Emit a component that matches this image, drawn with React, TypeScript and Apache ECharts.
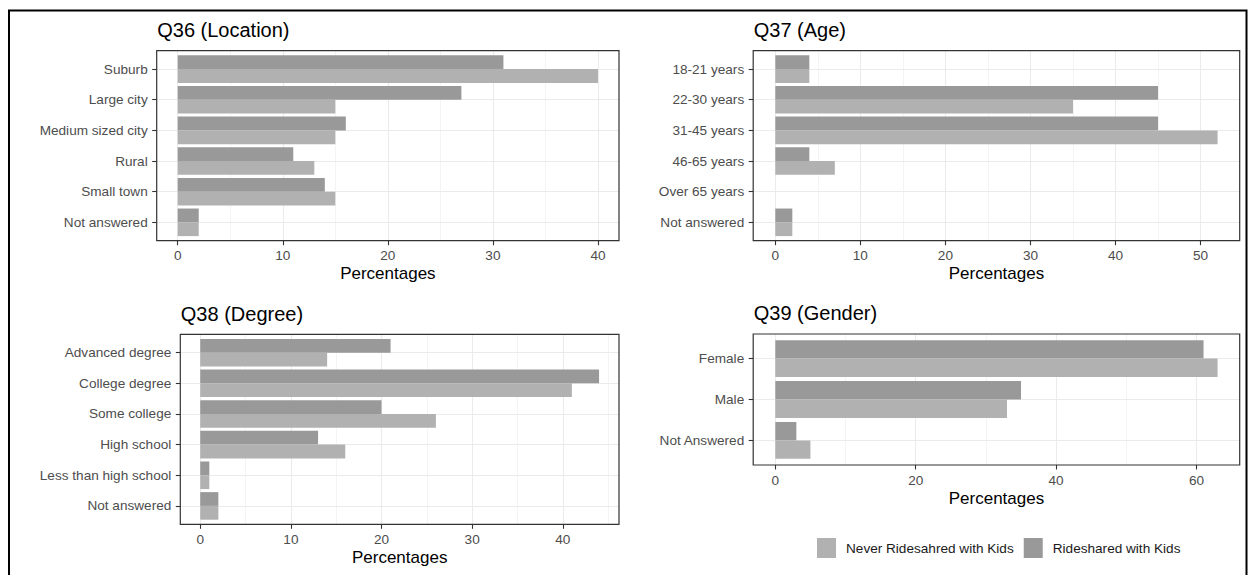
import React, { useEffect, useRef } from "react";
import * as echarts from "echarts";

const NEVER = "Never Ridesahred with Kids";
const RIDE = "Rideshared with Kids";

const q36Categories = ["Suburb", "Large city", "Medium sized city", "Rural", "Small town", "Not answered"];
const q36Ride = [31, 27, 16, 11, 14, 2];
const q36Never = [40, 15, 15, 13, 15, 2];

const q37Categories = ["18-21 years", "22-30 years", "31-45 years", "46-65 years", "Over 65 years", "Not answered"];
const q37Ride = [4, 45, 45, 4, 0, 2];
const q37Never = [4, 35, 52, 7, 0, 2];

const q38Categories = ["Advanced degree", "College degree", "Some college", "High school", "Less than high school", "Not answered"];
const q38Ride = [21, 44, 20, 13, 1, 2];
const q38Never = [14, 41, 26, 16, 1, 2];

const q39Categories = ["Female", "Male", "Not Answered"];
const q39Ride = [61, 35, 3];
const q39Never = [63, 33, 5];

const FONT = '"Liberation Sans", Arial, Helvetica, sans-serif';
const W = 1251;
const H = 575;

const panels = [
  { title: "Q36 (Location)", cats: q36Categories, ride: q36Ride, never: q36Never, step: 10, box: [156.7, 50.7, 619, 240.7] },
  { title: "Q37 (Age)", cats: q37Categories, ride: q37Ride, never: q37Never, step: 10, box: [753.2, 50.7, 1239.7, 240.7] },
  { title: "Q38 (Degree)", cats: q38Categories, ride: q38Ride, never: q38Never, step: 10, box: [180.3, 334.3, 619, 524.3] },
  { title: "Q39 (Gender)", cats: q39Categories, ride: q39Ride, never: q39Never, step: 20, box: [753.2, 334, 1239.7, 465] },
];

function buildOption() {
  const grids: any[] = [];
  const xAxes: any[] = [];
  const yAxes: any[] = [];
  const series: any[] = [];
  const graphics: any[] = [];

  const tickStyle = { show: true, length: 4.5, lineStyle: { color: "#333333", width: 1.1 } };
  const labelStyle = { color: "#4d4d4d", fontSize: 13.6, fontFamily: FONT };

  panels.forEach((p) => {
    const [L, T, R, B] = p.box;
    const maxV = Math.max(...p.ride, ...p.never);
    const lo = -0.05 * maxV;
    const hi = 1.05 * maxV;
    const px = (v: number) => L + ((v - lo) / (hi - lo)) * (R - L);
    const n = p.cats.length;
    const u = (B - T) / (n - 1 + 1.2);

    // major grid (vertical lines, ticks, labels)
    let tickMax = 0;
    while (tickMax + p.step <= hi + 1e-9) tickMax += p.step;
    const gMaj = grids.length;
    grids.push({ left: px(0), top: T, width: px(tickMax) - px(0), height: B - T });
    xAxes.push({
      type: "value",
      gridIndex: gMaj,
      min: 0,
      max: tickMax,
      interval: p.step,
      axisLine: { show: false, onZero: false },
      axisTick: tickStyle,
      axisLabel: { ...labelStyle, margin: 8 },
      splitLine: { show: true, lineStyle: { color: "#ebebeb", width: 1.1 } },
    });
    yAxes.push({ type: "value", gridIndex: gMaj, show: false });

    // minor grid
    const minors: number[] = [];
    for (let m = -p.step / 2; m <= hi; m += p.step) if (m >= lo) minors.push(m);
    const gMin = grids.length;
    const mFirst = minors[0];
    const mLast = minors[minors.length - 1];
    grids.push({ left: px(mFirst), top: T, width: px(mLast) - px(mFirst), height: B - T });
    xAxes.push({
      type: "value",
      gridIndex: gMin,
      min: mFirst,
      max: mLast,
      interval: p.step,
      axisLine: { show: false, onZero: false },
      axisTick: { show: false },
      axisLabel: { show: false },
      splitLine: { show: true, lineStyle: { color: "#ebebeb", width: 0.55 } },
    });
    yAxes.push({ type: "value", gridIndex: gMin, show: false });

    // data grid
    const gD = grids.length;
    grids.push({ left: L, top: T + 0.6 * u, width: R - L, height: B - T - 1.2 * u });
    xAxes.push({ type: "value", gridIndex: gD, min: lo, max: hi, show: false });
    yAxes.push({
      type: "category",
      gridIndex: gD,
      data: p.cats,
      inverse: true,
      boundaryGap: false,
      axisLine: { show: false, onZero: false },
      axisTick: tickStyle,
      axisLabel: { ...labelStyle, margin: 9, interval: 0 },
      splitLine: { show: true, lineStyle: { color: "#ebebeb", width: 1.1 } },
    });
    series.push({
      type: "bar",
      name: RIDE,
      xAxisIndex: gD,
      yAxisIndex: gD,
      data: p.ride,
      barGap: "0%",
      barCategoryGap: "10%",
      itemStyle: { color: "#999999" },
    });
    series.push({
      type: "bar",
      name: NEVER,
      xAxisIndex: gD,
      yAxisIndex: gD,
      data: p.never,
      barGap: "0%",
      barCategoryGap: "10%",
      itemStyle: { color: "#b1b1b1" },
    });

    graphics.push({
      type: "rect",
      silent: true,
      z: 10,
      shape: { x: L, y: T, width: R - L, height: B - T },
      style: { fill: "none", stroke: "#333333", lineWidth: 1.2 },
    });
    graphics.push({
      type: "text",
      silent: true,
      x: L + 0.5,
      y: T - 20.8,
      style: { text: p.title, fontSize: 20, fontFamily: FONT, fill: "#000000", align: "left", verticalAlign: "middle" },
    });
    graphics.push({
      type: "text",
      silent: true,
      x: (L + R) / 2,
      y: B + 33,
      style: { text: "Percentages", fontSize: 17, fontFamily: FONT, fill: "#000000", align: "center", verticalAlign: "middle" },
    });
  });

  graphics.push({
    type: "rect",
    silent: true,
    z: 20,
    shape: { x: 9, y: 10.5, width: 1237.5, height: 600 },
    style: { fill: "none", stroke: "#000000", lineWidth: 2 },
  });

  return {
    animation: false,
    backgroundColor: "#ffffff",
    grid: grids,
    xAxis: xAxes,
    yAxis: yAxes,
    series,
    legend: {
      data: [NEVER, RIDE],
      left: 817,
      top: 538,
      padding: 0,
      itemWidth: 19,
      itemHeight: 20,
      itemGap: 10,
      icon: "rect",
      selectedMode: false,
      textStyle: { fontSize: 13.6, fontFamily: FONT, color: "#1a1a1a", padding: [0, 0, 0, 5] },
    },
    graphic: graphics,
  };
}

export default function App() {
  const ref = useRef<HTMLDivElement>(null);
  useEffect(() => {
    if (!ref.current) return;
    const chart = echarts.init(ref.current, null, { renderer: "svg" });
    chart.setOption(buildOption() as any);
    return () => chart.dispose();
  }, []);
  return (
    <div
      ref={ref}
      style={{ position: "absolute", left: 0, top: 0, width: W, height: H, background: "#ffffff" }}
    />
  );
}
